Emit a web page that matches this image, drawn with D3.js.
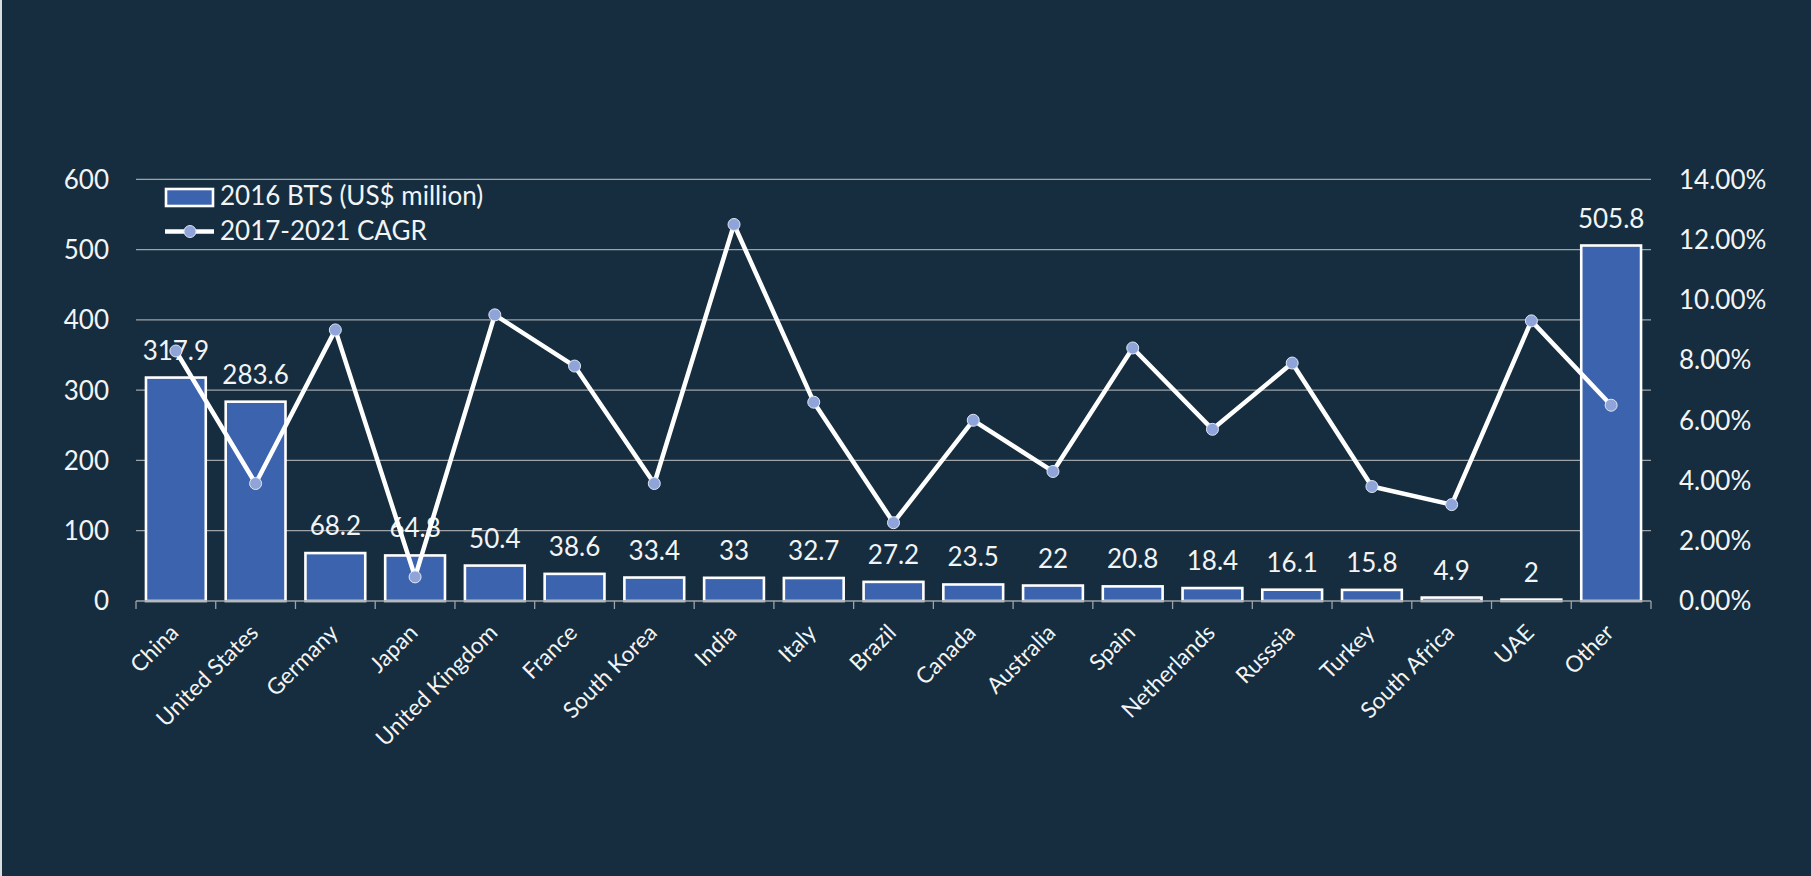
<!DOCTYPE html>
<html>
<head>
<meta charset="utf-8">
<script src="https://cdn.jsdelivr.net/npm/d3@7"></script>
<style>
  html, body { margin: 0; padding: 0; background: #152d3e; }
  svg { display: block; }
  text { font-family: Lato, "Open Sans", sans-serif; fill: #f2f4f5; }
</style>
</head>
<body>
<svg id="chart" width="1811" height="876"></svg>
<script>
// Market data: 2016 BTS revenue and 2017-2021 growth by country
const countries = ["China", "United States", "Germany", "Japan", "United Kingdom", "France",
  "South Korea", "India", "Italy", "Brazil", "Canada", "Australia", "Spain", "Netherlands",
  "Russsia", "Turkey", "South Africa", "UAE", "Other"];
const btsValues = [317.9, 283.6, 68.2, 64.8, 50.4, 38.6, 33.4, 33, 32.7, 27.2, 23.5, 22,
  20.8, 18.4, 16.1, 15.8, 4.9, 2, 505.8];
const cagrValues = [0.083, 0.039, 0.090, 0.008, 0.095, 0.078, 0.039, 0.125, 0.066, 0.026,
  0.060, 0.043, 0.084, 0.057, 0.079, 0.038, 0.032, 0.093, 0.065];
const leftTicks = [0, 100, 200, 300, 400, 500, 600];
const rightTicks = [0, 0.02, 0.04, 0.06, 0.08, 0.10, 0.12, 0.14];
const seriesNames = ["2016 BTS (US$ million)", "2017-2021 CAGR"];

const svg = d3.select("#chart");
const W = 1811, H = 876;
const plot = { left: 136, right: 1651, top: 179.3, bottom: 601 };

const colors = {
  bg: "#152d3e",
  bar: "#3c63ae",
  grid: "#9ea3a8",
  marker: "#8fa4d9",
  line: "#ffffff"
};

svg.append("rect").attr("width", W).attr("height", H).attr("fill", colors.bg);
svg.append("rect").attr("width", 2).attr("height", H).attr("fill", "#d9dde0");

const x = d3.scaleBand()
  .domain(countries)
  .range([plot.left, plot.right])
  .paddingInner(0.25)
  .paddingOuter(0.125);

const yLeft = d3.scaleLinear().domain([0, 600]).range([plot.bottom, plot.top]);
const yRight = d3.scaleLinear().domain([0, 0.14]).range([plot.bottom, plot.top]);

// Horizontal gridlines on the left axis ticks
svg.append("g")
  .selectAll("line")
  .data(leftTicks.filter(d => d > 0))
  .join("line")
  .attr("x1", plot.left).attr("x2", plot.right)
  .attr("y1", d => yLeft(d)).attr("y2", d => yLeft(d))
  .attr("stroke", colors.grid).attr("stroke-width", 1.3);

// Left axis labels
svg.append("g")
  .selectAll("text")
  .data(leftTicks)
  .join("text")
  .attr("x", 109)
  .attr("y", d => yLeft(d))
  .attr("dy", "0.36em")
  .attr("text-anchor", "end")
  .attr("font-size", 26)
  .text(d => d3.format("d")(d));

// Right axis labels
svg.append("g")
  .selectAll("text")
  .data(rightTicks)
  .join("text")
  .attr("x", 1679)
  .attr("y", d => yRight(d))
  .attr("dy", "0.36em")
  .attr("text-anchor", "start")
  .attr("font-size", 26)
  .text(d => d3.format(".2%")(d));

// Bars
svg.append("g")
  .selectAll("rect")
  .data(countries)
  .join("rect")
  .attr("x", d => x(d))
  .attr("width", x.bandwidth())
  .attr("y", (d, i) => yLeft(btsValues[i]))
  .attr("height", (d, i) => yLeft(0) - yLeft(btsValues[i]))
  .attr("fill", colors.bar)
  .attr("stroke", "#ffffff")
  .attr("stroke-width", 2.6);

// Bottom axis line and category ticks
svg.append("line")
  .attr("x1", plot.left).attr("x2", plot.right)
  .attr("y1", plot.bottom).attr("y2", plot.bottom)
  .attr("stroke", colors.grid).attr("stroke-width", 1.3);

const boundaries = countries.map(c => x(c) - x.step() * x.paddingOuter())
  .concat([plot.right]);
svg.append("g")
  .selectAll("line")
  .data(boundaries)
  .join("line")
  .attr("x1", d => d).attr("x2", d => d)
  .attr("y1", plot.bottom).attr("y2", plot.bottom + 8)
  .attr("stroke", colors.grid).attr("stroke-width", 1.3);

// Category labels, rotated
svg.append("g")
  .selectAll("text")
  .data(countries)
  .join("text")
  .attr("transform", d => `translate(${x(d) + x.bandwidth() / 2 + 4},${plot.bottom + 33}) rotate(-45)`)
  .attr("text-anchor", "end")
  .attr("font-size", 22.5)
  .text(d => d);

// Value labels above bars
svg.append("g")
  .selectAll("text")
  .data(countries)
  .join("text")
  .attr("x", d => x(d) + x.bandwidth() / 2)
  .attr("y", (d, i) => yLeft(btsValues[i]) - 18)
  .attr("text-anchor", "middle")
  .attr("font-size", 26)
  .text((d, i) => btsValues[i]);

// CAGR line on the right axis
const line = d3.line()
  .x((d, i) => x(countries[i]) + x.bandwidth() / 2)
  .y(d => yRight(d));

svg.append("path")
  .datum(cagrValues)
  .attr("d", line)
  .attr("fill", "none")
  .attr("stroke", colors.line)
  .attr("stroke-width", 4.5)
  .attr("stroke-linejoin", "round");

svg.append("g")
  .selectAll("circle")
  .data(cagrValues)
  .join("circle")
  .attr("cx", (d, i) => x(countries[i]) + x.bandwidth() / 2)
  .attr("cy", d => yRight(d))
  .attr("r", 6)
  .attr("fill", colors.marker)
  .attr("stroke", "#dfe6f5")
  .attr("stroke-width", 1);

// Legend
const legend = svg.append("g");
legend.append("rect")
  .attr("x", 166).attr("y", 189).attr("width", 47).attr("height", 17)
  .attr("fill", colors.bar).attr("stroke", "#ffffff").attr("stroke-width", 2.6);
legend.append("text")
  .attr("x", 220).attr("y", 205)
  .attr("font-size", 26)
  .text(seriesNames[0]);
legend.append("line")
  .attr("x1", 165).attr("x2", 214).attr("y1", 231.5).attr("y2", 231.5)
  .attr("stroke", colors.line).attr("stroke-width", 4.5);
legend.append("circle")
  .attr("cx", 190).attr("cy", 231.5).attr("r", 6)
  .attr("fill", colors.marker).attr("stroke", "#dfe6f5").attr("stroke-width", 1);
legend.append("text")
  .attr("x", 220).attr("y", 240)
  .attr("font-size", 26)
  .text(seriesNames[1]);
</script>
</body>
</html>
